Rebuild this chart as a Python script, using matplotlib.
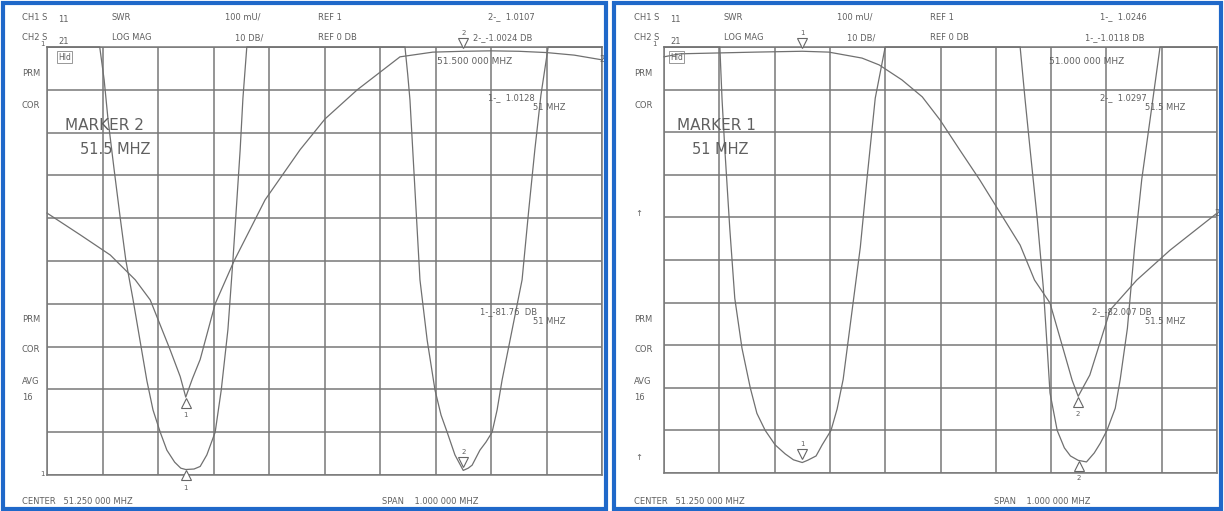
import numpy as np
import matplotlib
matplotlib.use("Agg")
import matplotlib.pyplot as plt
from matplotlib.patches import Rectangle
from matplotlib.transforms import offset_copy

plt.rcParams["font.family"] = ["DejaVu Sans"]

# frequency axis (MHz)
center = 51.25
span = 1.0
f_lo, f_hi = center - span / 2, center + span / 2

# left screen: marker 2 active (51.5 MHz pass, 51 MHz notch)
left_s21_f = [50.75, 50.81, 50.864, 50.909, 50.936, 50.972, 50.99, 51.0, 51.012,
              51.026, 51.053, 51.087, 51.143, 51.206, 51.251, 51.309, 51.386, 51.445,
              51.5, 51.55, 51.60, 51.65, 51.70, 51.75]
left_s21_db = [-38.8, -43.9, -48.6, -54.4, -59.1, -70.8, -77.0, -81.8, -77.5,
               -73.0, -60.0, -50.0, -35.7, -24.0, -16.8, -10.0, -2.3, -1.2,
               -1.0, -0.9, -1.0, -1.3, -1.9, -3.0]
left_swr_f = [50.75, 50.845, 50.853, 50.86, 50.871, 50.882, 50.892, 50.905, 50.918,
              50.93, 50.941, 50.954, 50.966, 50.98, 50.991, 51.0, 51.015, 51.026,
              51.038, 51.053, 51.064, 51.076, 51.085, 51.092, 51.098, 51.103, 51.11,
              51.395, 51.40, 51.404, 51.413, 51.422, 51.435, 51.449, 51.46, 51.471,
              51.485, 51.5, 51.509, 51.516, 51.53, 51.541, 51.552, 51.561, 51.57,
              51.588, 51.606, 51.618, 51.629, 51.64, 51.653, 51.75]
left_swr = [2.0, 2.0, 1.923, 1.83, 1.713, 1.60, 1.502, 1.41, 1.311,
            1.22, 1.152, 1.10, 1.058, 1.03, 1.016, 1.0128, 1.014, 1.02,
            1.047, 1.10, 1.199, 1.34, 1.502, 1.64, 1.759, 1.88, 2.0,
            2.0, 1.935, 1.876, 1.666, 1.456, 1.315, 1.199, 1.14, 1.10,
            1.047, 1.0107, 1.016, 1.023, 1.058, 1.077, 1.10, 1.152, 1.222,
            1.339, 1.456, 1.619, 1.76, 1.888, 2.0, 2.0]

# right screen: marker 1 active (51 MHz pass, 51.5 MHz notch)
right_s21_f = [50.75, 50.779, 50.915, 51.0, 51.048, 51.108, 51.139, 51.18, 51.217,
               51.249, 51.285, 51.321, 51.394, 51.42, 51.448, 51.475, 51.488, 51.499,
               51.52, 51.557, 51.605, 51.665, 51.75]
right_s21_db = [-2.3, -1.6, -1.2, -1.0, -1.2, -2.6, -4.2, -7.7, -11.7,
                -17.1, -24.2, -31.2, -46.5, -54.7, -60.1, -72.3, -78.2, -82.0,
                -77.0, -61.7, -54.7, -47.7, -39.0]
right_swr_f = [50.75, 50.851, 50.855, 50.86, 50.869, 50.878, 50.891, 50.906, 50.918,
               50.933, 50.951, 50.969, 50.984, 51.0, 51.01, 51.025, 51.036, 51.052,
               51.063, 51.074, 51.086, 51.105, 51.117, 51.132, 51.15,
               51.394, 51.403, 51.412, 51.425, 51.436, 51.443, 51.448, 51.461, 51.474,
               51.485, 51.499, 51.514, 51.528, 51.539, 51.551, 51.566, 51.575, 51.588,
               51.601, 51.614, 51.629, 51.647, 51.75]
right_swr = [2.0, 2.0, 1.876, 1.76, 1.573, 1.41, 1.293, 1.20, 1.14,
             1.10, 1.066, 1.045, 1.031, 1.0246, 1.03, 1.04, 1.066, 1.10,
             1.15, 1.22, 1.34, 1.53, 1.69, 1.88, 2.0,
             2.0, 1.876, 1.76, 1.596, 1.434, 1.293, 1.188, 1.10, 1.059,
             1.04, 1.0297, 1.026, 1.047, 1.07, 1.10, 1.152, 1.22, 1.34,
             1.53, 1.69, 1.83, 2.0, 2.0]

W, H = 1224, 511
fig = plt.figure(figsize=(W / 100, H / 100), dpi=100)
fig.patch.set_facecolor("white")

TXT = "#606060"
TRACE = "#707070"
GRID = "#787878"


def fx(x):
    return x / W


def fy(y):
    return 1 - y / H


def txt(x, y, s, size=6, **kw):
    fig.text(fx(x), fy(y), s, fontsize=size, color=TXT, va="center", ha="left", **kw)


def screen(x0, x1, y1, s21_f, s21_db, swr_f, swr):
    ax = fig.add_axes([fx(x0), fy(y1), (x1 - x0) / W, (y1 - 47) / H])
    ax.set_xlim(f_lo, f_hi)
    ax.set_ylim(-100, 0)
    ax.set_xticks(np.linspace(f_lo, f_hi, 11))
    ax.set_yticks(np.linspace(-100, 0, 11))
    ax.tick_params(length=0, labelbottom=False, labelleft=False)
    ax.grid(True, color=GRID, lw=1.1)
    for sp in ax.spines.values():
        sp.set_color(GRID)
        sp.set_linewidth(1.1)
    ax.plot(s21_f, s21_db, color=TRACE, lw=0.9, clip_on=False)

    ax2 = ax.twinx()
    ax2.set_ylim(1.0, 2.0)
    ax2.set_yticks([])
    for sp in ax2.spines.values():
        sp.set_visible(False)
    ax2.plot(swr_f, swr, color=TRACE, lw=0.9, clip_on=False)
    return ax, ax2


def marker(ax, f, val, label, active):
    if active:
        tr = offset_copy(ax.transData, fig=fig, y=6, units="points")
        ax.plot([f], [val], marker="v", ms=7, mfc="white", mec="#666666",
                mew=0.8, transform=tr, clip_on=False, zorder=5)
        ax.text(f, val, label, transform=offset_copy(ax.transData, fig=fig, y=13, units="points"),
                fontsize=5, color=TXT, ha="center", va="center", clip_on=False)
    else:
        tr = offset_copy(ax.transData, fig=fig, y=-4, units="points")
        ax.plot([f], [val], marker="^", ms=7, mfc="white", mec="#666666",
                mew=0.8, transform=tr, clip_on=False, zorder=5)
        ax.text(f, val, label, transform=offset_copy(ax.transData, fig=fig, y=-13, units="points"),
                fontsize=5, color=TXT, ha="center", va="center", clip_on=False)


# left screen
axL, axL2 = screen(47, 602, 475, left_s21_f, left_s21_db, left_swr_f, left_swr)
marker(axL, 51.5, left_s21_db[left_s21_f.index(51.5)], "2", True)
marker(axL2, 51.5, 1.0107, "2", True)
marker(axL, 51.0, left_s21_db[left_s21_f.index(51.0)], "1", False)
marker(axL2, 51.0, 1.0128, "1", False)
axL.text(1.0, left_s21_db[-1], "2", transform=axL.get_yaxis_transform(),
         fontsize=6, color=TXT, ha="center", va="center", clip_on=False)

# right screen
axR, axR2 = screen(664, 1217, 473, right_s21_f, right_s21_db, right_swr_f, right_swr)
marker(axR, 51.0, right_s21_db[right_s21_f.index(51.0)], "1", True)
marker(axR2, 51.0, 1.0246, "1", True)
marker(axR, 51.499, right_s21_db[right_s21_f.index(51.499)], "2", False)
marker(axR2, 51.5, 1.0297, "2", False)
axR.text(1.0, right_s21_db[-1], "2", transform=axR.get_yaxis_transform(),
         fontsize=6, color=TXT, ha="center", va="center", clip_on=False)

# screen annotations
for dx, m_swr, m_db, act_f, ma, mb, mtxt, mfreq in [
        (0, "2-_  1.0107", "2-_-1.0024 DB", "51.500 000 MHZ",
         ("1-_  1.0128", "51 MHZ"), ("1-_-81.76  DB", "51 MHZ"), "MARKER 2", "51.5 MHZ"),
        (612, "1-_  1.0246", "1-_-1.0118 DB", "51.000 000 MHZ",
         ("2-_  1.0297", "51.5 MHZ"), ("2-_-82.007 DB", "51.5 MHZ"), "MARKER 1", "51 MHZ")]:
    txt(22 + dx, 17, "CH1 S")
    txt(58 + dx, 20, "11")
    txt(112 + dx, 17, "SWR")
    txt(225 + dx, 17, "100 mU/")
    txt(318 + dx, 17, "REF 1")
    txt(22 + dx, 38, "CH2 S")
    txt(58 + dx, 41, "21")
    txt(112 + dx, 38, "LOG MAG")
    txt(235 + dx, 38, "10 DB/")
    txt(318 + dx, 38, "REF 0 DB")
    txt(488 + dx, 17, m_swr)
    txt(473 + dx, 38, m_db)
    txt(437 + dx, 62, act_f, size=6.5)
    txt(488 + dx, 98, ma[0])
    txt(533 + dx, 108, ma[1])
    txt(480 + dx, 312, mb[0])
    txt(533 + dx, 322, mb[1])
    txt(65 + dx, 125, mtxt, size=11)
    txt(80 + dx, 150, mfreq, size=10.5)
    txt(22 + dx, 73, "PRM")
    txt(22 + dx, 105, "COR")
    txt(22 + dx, 320, "PRM")
    txt(22 + dx, 350, "COR")
    txt(22 + dx, 382, "AVG")
    txt(22 + dx, 397, "16")
    txt(40 + dx, 44, "1", size=5)
    txt(58 + dx, 57, "Hld", size=5.5,
        bbox=dict(boxstyle="square,pad=0.15", fc="none", ec="#888888", lw=0.6))
    txt(22 + dx, 502, "CENTER   51.250 000 MHZ")
    txt(382 + dx, 502, "SPAN    1.000 000 MHZ")

txt(40, 474, "1", size=5)
txt(635, 213, "↑", size=6)
txt(635, 458, "↑", size=6)

# blue screen frames
for x0, x1 in [(3, 606), (614, 1221)]:
    fig.patches.append(Rectangle((fx(x0), fy(509)), (x1 - x0) / W, 506 / H,
                                 transform=fig.transFigure, fill=False,
                                 ec="#1f68c9", lw=3))

fig.savefig("out.png", dpi=100)
